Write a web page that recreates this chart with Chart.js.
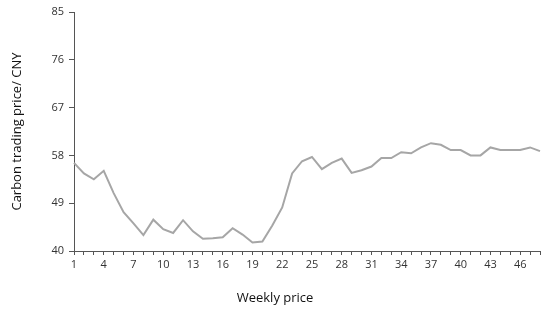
<!DOCTYPE html>
<html>
<head>
<meta charset="utf-8">
<script src="https://cdn.jsdelivr.net/npm/chart.js@4"></script>
<style>
  html, body { margin: 0; padding: 0; background: #fff; }
  #wrap { width: 550px; height: 312px; }
</style>
</head>
<body>
<div id="wrap"><canvas id="myChart" width="550" height="312"></canvas></div>
<script>
const weeks = Array.from({ length: 48 }, (_, i) => String(i + 1));
const prices = [
    56.6, 54.6, 53.5, 55.1, 50.9, 47.3, 45.2, 43.0, 45.9, 44.1,
    43.4, 45.8, 43.7, 42.3, 42.4, 42.6, 44.3, 43.1, 41.6, 41.8,
    44.8, 48.2, 54.6, 56.9, 57.7, 55.4, 56.6, 57.4, 54.7, 55.2,
    55.9, 57.5, 57.5, 58.6, 58.4, 59.5, 60.3, 60.0, 59.0, 59.0,
    58.0, 58.0, 59.5, 59.0, 59.0, 59.0, 59.5, 58.8
];
const yTicks = [40, 49, 58, 67, 76, 85];
const xTitle = 'Weekly price';

const axisColor = '#555555';
const textColor = '#333333';
const fontFamily = "'Open Sans', 'Liberation Sans', sans-serif";

// x axis title sits centred on the whole figure, not on the plot area
const xTitlePlugin = {
    id: 'xTitle',
    afterDraw: function (chart) {
        const c = chart.ctx;
        c.save();
        c.font = "13px " + fontFamily;
        c.fillStyle = '#111';
        c.textAlign = 'center';
        c.textBaseline = 'middle';
        c.fillText(xTitle, chart.width / 2, 298);
        c.restore();
    }
};

var ctx = document.getElementById('myChart').getContext('2d');

var myChart = new Chart(ctx, {
    type: 'line',
    data: {
        labels: weeks,
        datasets: [
            {
                label: 'Weekly price',
                data: prices,
                borderColor: '#a6a6a6',
                borderWidth: 2,
                pointRadius: 0,
                tension: 0,
                fill: false,
            },
        ],
    },
    plugins: [xTitlePlugin],
    options: {
        responsive: false,
        animation: false,
        layout: {
            padding: { left: 0, right: 10, top: 12, bottom: 0 }
        },
        plugins: {
            legend: { display: false },
            tooltip: { enabled: false },
        },
        scales: {
            x: {
                type: 'category',
                offset: false,
                grid: {
                    display: true,
                    drawOnChartArea: false,
                    drawTicks: true,
                    tickLength: 4,
                    color: axisColor,
                },
                border: { color: axisColor, width: 1 },
                ticks: {
                    autoSkip: false,
                    maxRotation: 0,
                    color: textColor,
                    font: { family: fontFamily, size: 11 },
                    padding: 3,
                    callback: function (value, index) {
                        return index % 3 === 0 ? weeks[index] : '';
                    },
                },
                afterFit: function (scale) {
                    scale.height = 61;
                },
            },
            y: {
                min: 40,
                max: 85,
                afterBuildTicks: function (scale) {
                    scale.ticks = yTicks.map(v => ({ value: v }));
                },
                grid: {
                    display: true,
                    drawOnChartArea: false,
                    drawTicks: true,
                    tickLength: 5,
                    color: axisColor,
                },
                border: { color: axisColor, width: 1 },
                ticks: {
                    color: textColor,
                    font: { family: fontFamily, size: 11 },
                    padding: 5,
                },
                title: {
                    display: true,
                    text: 'Carbon trading price/ CNY',
                    color: '#111',
                    font: { family: fontFamily, size: 13 },
                    padding: { top: 9, bottom: 0 },
                },
                afterFit: function (scale) {
                    scale.width = 74;
                },
            },
        },
    },
});
</script>
</body>
</html>
